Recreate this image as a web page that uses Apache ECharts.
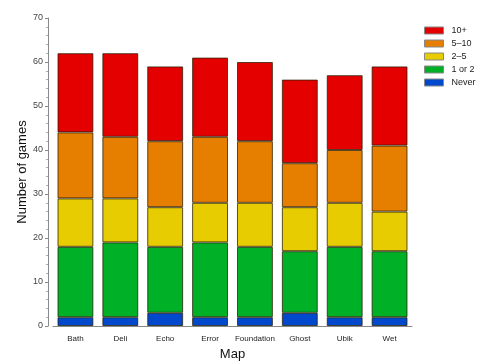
<!DOCTYPE html>
<html lang="en">
<head>
<meta charset="UTF-8">
<title>Games per map</title>
<script src="https://cdn.jsdelivr.net/npm/echarts@6/dist/echarts.min.js"></script>
<style>
  html, body { margin: 0; padding: 0; background: #fff; }
</style>
</head>
<body>
<div id="main" style="width: 485px; height: 363px;"></div>
<script>
  // maps on the x axis
  var maps = ['Bath', 'Deli', 'Echo', 'Error', 'Foundation', 'Ghost', 'Ubik', 'Wet'];

  // segment heights per answer bucket (stacked bottom to top)
  var never    = [2, 2, 3, 2, 2, 3, 2, 2];
  var oneOrTwo = [16, 17, 15, 17, 16, 14, 16, 15];
  var twoFive  = [11, 10, 9, 9, 10, 10, 10, 9];
  var fiveTen  = [15, 14, 15, 15, 14, 10, 12, 15];
  var tenPlus  = [18, 19, 17, 18, 18, 19, 17, 18];

  var yTicks = [0, 10, 20, 30, 40, 50, 60, 70];

  var font = 'Liberation Sans, Arial, sans-serif';

  function bar(name, data, color) {
    return {
      name: name,
      type: 'bar',
      stack: 'total',
      data: data,
      barCategoryGap: '20%',
      itemStyle: {
        color: color,
        borderColor: 'rgba(40,30,0,0.75)',
        borderWidth: 1
      }
    };
  }

  var chart = echarts.init(document.getElementById('main'));
  chart.setOption({
    animation: false,
    textStyle: { fontFamily: font },
    grid: { left: 53, right: 73, top: 18, bottom: 37, outerBoundsMode: 'none' },
    legend: {
      orient: 'vertical',
      left: 419,
      top: 21,
      itemWidth: 19,
      itemHeight: 7,
      itemGap: 4,
      icon: 'rect',
      data: ['10+', '5\u201310', '2\u20135', '1 or 2', 'Never'],
      textStyle: { fontSize: 9, lineHeight: 9, color: '#222', padding: [0, 0, 0, 3] },
      itemStyle: { borderColor: '#888', borderWidth: 1 }
    },
    xAxis: {
      type: 'category',
      data: maps,
      name: 'Map',
      nameLocation: 'middle',
      nameGap: 22,
      nameMoveOverlap: false,
      nameTextStyle: { fontSize: 13, color: '#111' },
      axisLine: { lineStyle: { color: '#888' } },
      axisTick: { alignWithLabel: true, length: 3, lineStyle: { color: '#888' } },
      axisLabel: { interval: 0, fontSize: 8, color: '#222', margin: 9 }
    },
    yAxis: {
      type: 'value',
      min: yTicks[0],
      max: yTicks[yTicks.length - 1],
      interval: 10,
      offset: 5,
      name: 'Number of games',
      nameLocation: 'middle',
      nameGap: 19,
      nameMoveOverlap: false,
      nameTextStyle: { fontSize: 13, color: '#111' },
      axisLine: { show: true, lineStyle: { color: '#888' } },
      axisTick: { show: true, length: 3, lineStyle: { color: '#888' } },
      minorTick: { show: true, splitNumber: 5, length: 2, lineStyle: { color: '#aaa' } },
      splitLine: { show: false },
      axisLabel: { fontSize: 9, color: '#444', margin: 5 }
    },
    series: [
      bar('Never', never, '#0049cc'),
      bar('1 or 2', oneOrTwo, '#00b026'),
      bar('2\u20135', twoFive, '#e6cc00'),
      bar('5\u201310', fiveTen, '#e67e00'),
      bar('10+', tenPlus, '#e50000')
    ]
  });
</script>
</body>
</html>
